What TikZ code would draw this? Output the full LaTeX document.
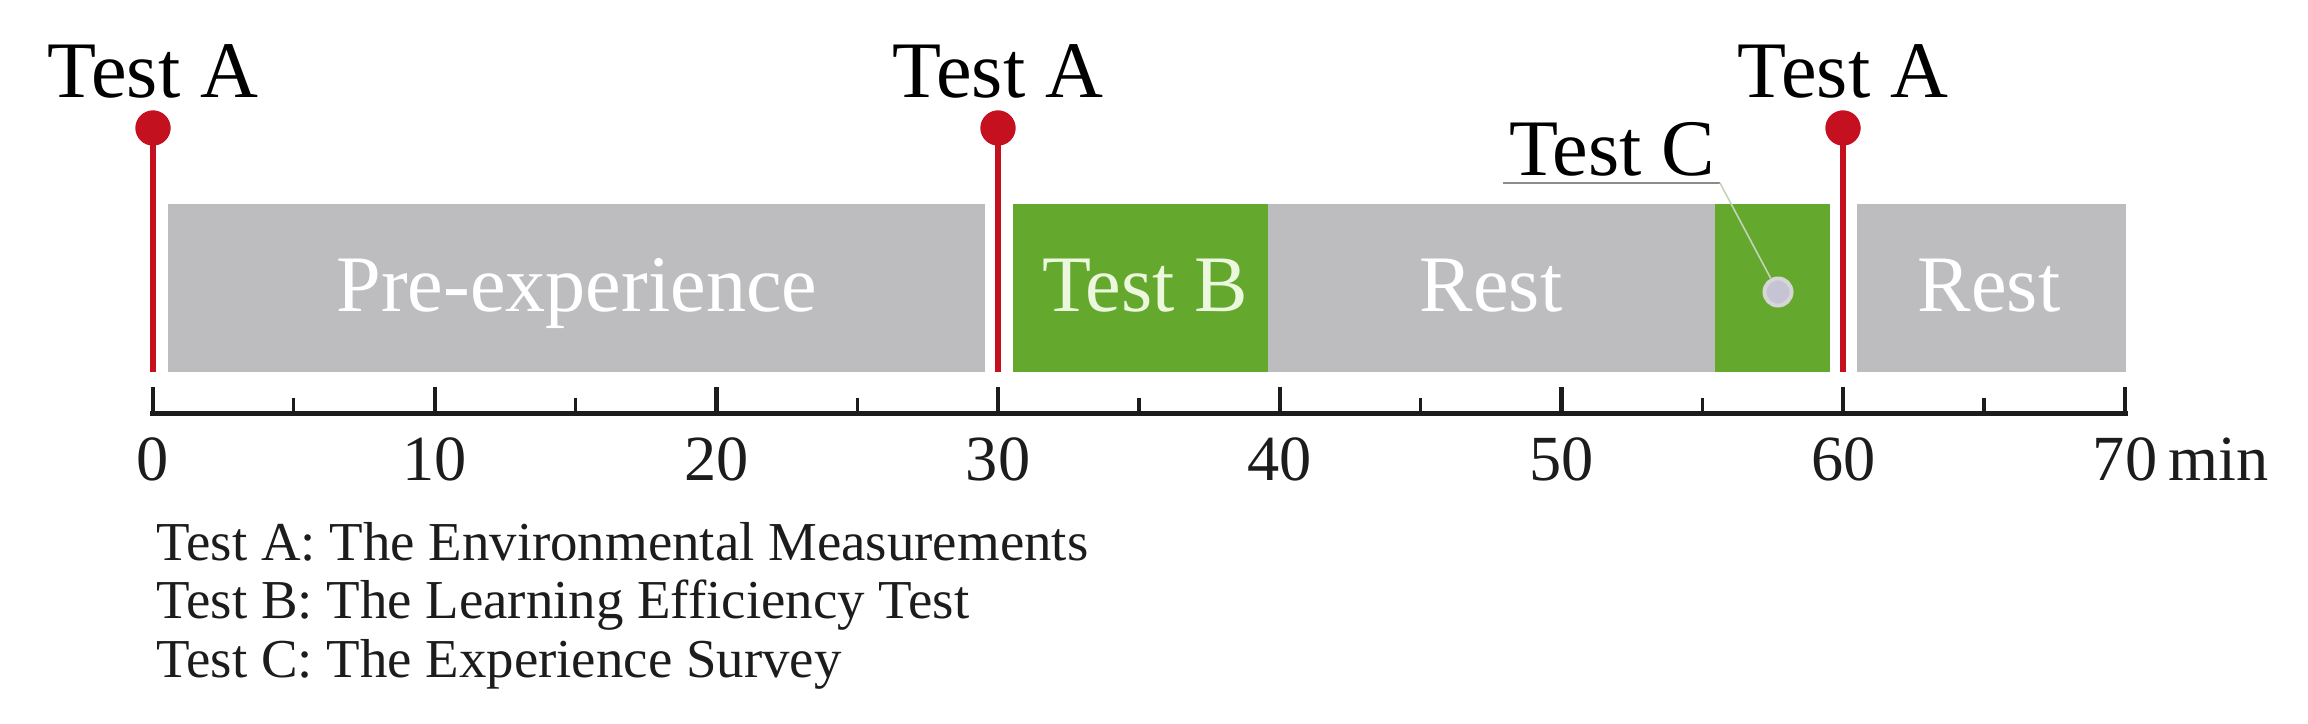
\documentclass[tikz,border=0pt]{standalone}
\usepackage{fontspec}
\setmainfont{Liberation Serif}
\usetikzlibrary{fit}
\definecolor{barGray}{RGB}{189,188,190}
\definecolor{barGreen}{RGB}{100,168,46}
\definecolor{markRed}{RGB}{196,16,31}
\definecolor{dotFill}{RGB}{198,196,212}
\definecolor{dotRing}{RGB}{214,214,214}
\definecolor{ulGray}{RGB}{140,140,140}
\definecolor{diagGray}{RGB}{196,212,186}
\definecolor{axisBlack}{RGB}{28,28,28}
\definecolor{paleGreen}{RGB}{236,248,222}
\begin{document}
\begin{tikzpicture}[x=0.01cm,y=-0.01cm,
  bigtext/.style={font=\fontsize{22.8}{25}\selectfont, inner sep=0pt, anchor=base},
  bartext/.style={bigtext, text=white},
  ticklabel/.style={font=\fontsize{18.3}{20}\selectfont, inner sep=0pt, anchor=base, text=axisBlack},
  legendtext/.style={font=\fontsize{15.6}{18}\selectfont, inner sep=0pt, anchor=base west, text=axisBlack},
  barbox/.style={inner sep=0pt, draw=none},
  redline/.style={draw=markRed, line width=0.068cm},
  reddot/.style={circle, fill=markRed, minimum size=0.35cm, inner sep=0pt},
  cdotstyle/.style={circle, fill=dotFill, draw=dotRing, line width=0.04cm, minimum size=0.27cm, inner sep=0pt},
  axisline/.style={draw=axisBlack, line width=0.05cm, line cap=rect},
  majortick/.style={draw=axisBlack, line width=0.042cm},
  minortick/.style={draw=axisBlack, line width=0.032cm},
  underl/.style={draw=ulGray, line width=0.016cm},
  diagl/.style={draw=diagGray, line width=0.016cm}
]
\useasboundingbox (0,0) rectangle (2308,724);

% bars
\node[barbox, fill=barGray, fit={(168,204) (985,372)}] (pre) {};
\node[barbox, fill=barGreen, fit={(1013,204) (1268,372)}] (testB) {};
\node[barbox, fill=barGray, fit={(1268,204) (1715,372)}] (rest1) {};
\node[barbox, fill=barGreen, fit={(1715,204) (1830,372)}] (testCbox) {};
\node[barbox, fill=barGray, fit={(1857,204) (2126,372)}] (rest2) {};

\node[bartext] (tpre) at (577,311) {Pre-experience};
\node[bigtext, text=paleGreen] (ttestB) at (1145,311) {Test B};
\node[bartext] (trest1) at (1491,311) {Rest};
\node[bartext] (trest2) at (1989,311) {Rest};

% Test A markers
\foreach \nm/\x in {A1/153, A2/998, A3/1843} {
  \coordinate (e\nm) at (\x,372);
  \node[reddot] (d\nm) at (\x,128) {};
  \draw[redline] (d\nm.center) -- (e\nm);
  \node[reddot] at (d\nm) {};
  \node[bigtext] (l\nm) at (\x,97) {Test A};
}

% Test C
\node[bigtext] (ltc) at (1612,175) {Test C};
\coordinate (ulL) at (1503,183);
\coordinate (ulR) at (1720,183);
\node[cdotstyle] (cdot) at (1778,292) {};
\draw[underl] (ulL) -- (ulR);
\draw[diagl] (ulR) -- (cdot);

% axis
\coordinate (ax0) at (153,413);
\coordinate (ax70) at (2125,413);
\foreach \t in {0,10,...,70} {
  \draw[majortick] ({153+28.17*\t},387) -- ({153+28.17*\t},413);
}
\foreach \t in {5,15,...,65} {
  \draw[minortick] ({153+28.17*\t},398) -- ({153+28.17*\t},413);
}
\draw[axisline] (ax0) -- (ax70);
\foreach \t in {0,10,...,60} {
  \node[ticklabel] (tl\t) at ({153+28.17*\t},480) {\t};
}
\node[ticklabel] (tl70) at (2125,480) {70};
\node[ticklabel, anchor=base west] (tlmin) at ([xshift=0.1cm]tl70.base east) {min};

% legend
\node[legendtext] (legA) at (156,560) {Test A: The Environmental Measurements};
\node[legendtext] (legB) at (156,618) {Test B: The Learning Efficiency Test};
\node[legendtext] (legC) at (156,677) {Test C: The Experience Survey};
\end{tikzpicture}
\end{document}
